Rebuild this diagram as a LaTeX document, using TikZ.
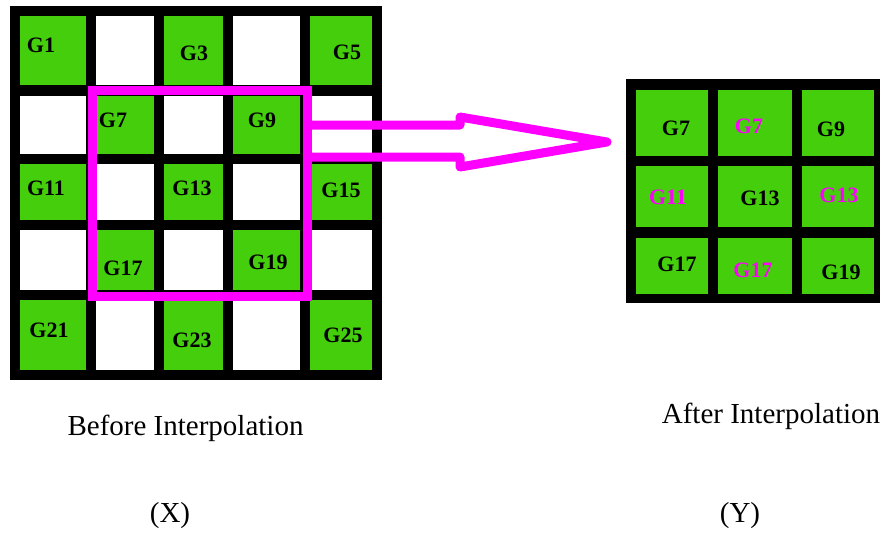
\documentclass[tikz,border=0pt]{standalone}
\usepackage{fontspec}
\setmainfont{Liberation Serif}
\usepackage{xcolor}
\usepackage{tikz}

\definecolor{cellgreen}{RGB}{68,206,12}
\definecolor{selpink}{RGB}{255,0,255}

\begin{document}
\begin{tikzpicture}[x=1pt,y=-1pt,
    glbl/.style={font=\fontsize{22}{24}\selectfont\bfseries, inner sep=0pt},
    newlbl/.style={glbl, text=selpink},
    selbox/.style={draw=selpink, line width=9pt, inner sep=0pt},
    arrowline/.style={draw=selpink, line width=9pt, line join=round},
    captext/.style={font=\fontsize{29}{34}\selectfont, anchor=base, inner sep=0pt}]
    \useasboundingbox (0,0) rectangle (882,533);

    % before: 5x5 grid
    \fill (10,6) rectangle (382,380);
    \foreach \xa/\xb [count=\i] in {20/86,96/154,164/223,233/300,310/372}
        \foreach \ya/\yb [count=\j] in {16/85,96/154,164/220,230/290,300/370} {
            \pgfmathtruncatemacro{\cellsum}{\i+\j}
            \ifodd\cellsum
                \fill[white] (\xa,\ya) rectangle (\xb,\yb);
            \else
                \fill[cellgreen] (\xa,\ya) rectangle (\xb,\yb);
            \fi
        }
    \node[glbl] (g1) at (41,45) {G1};
    \node[glbl] (g3) at (194,53) {G3};
    \node[glbl] (g5) at (347,52) {G5};
    \node[glbl] (g7) at (113,120) {G7};
    \node[glbl] (g9) at (262,120) {G9};
    \node[glbl] (g11) at (46,188) {G11};
    \node[glbl] (g13) at (192,188) {G13};
    \node[glbl] (g15) at (341,190) {G15};
    \node[glbl] (g17) at (123,268) {G17};
    \node[glbl] (g19) at (268,262) {G19};
    \node[glbl] (g21) at (49,330) {G21};
    \node[glbl] (g23) at (192,340) {G23};
    \node[glbl] (g25) at (343,335) {G25};

    % selected window and arrow
    \node[selbox, minimum width=215pt, minimum height=206pt] (sel) at (199.5,193) {};
    \draw[arrowline] (sel.east |- 0,125) -- (460,125) -- (460,117) -- (607,142)
        -- (460,167) -- (460,157) -- (sel.east |- 0,157);

    % after: 3x3 grid
    \fill (626,79) rectangle (880,303);
    \foreach \xa/\xb in {636/708,718/792,802/874}
        \foreach \ya/\yb in {90/156,166/227,238/294}
            \fill[cellgreen] (\xa,\ya) rectangle (\xb,\yb);
    \node[glbl] (h7) at (676,128) {G7};
    \node[newlbl] (n7) at (749,126) {G7};
    \node[glbl] (h9) at (831,129) {G9};
    \node[newlbl] (n11) at (668,197) {G11};
    \node[glbl] (h13) at (760,198) {G13};
    \node[newlbl] (n13) at (839,195) {G13};
    \node[glbl] (h17) at (677,264) {G17};
    \node[newlbl] (n17) at (753,270) {G17};
    \node[glbl] (h19) at (841,272) {G19};

    \node[captext] (before) at (185.5,435) {Before Interpolation};
    \node[captext] (after) at (771,423) {After Interpolation};
    \node[captext] (xlbl) at (170,522) {(X)};
    \node[captext] (ylbl) at (740,522) {(Y)};
\end{tikzpicture}
\end{document}
